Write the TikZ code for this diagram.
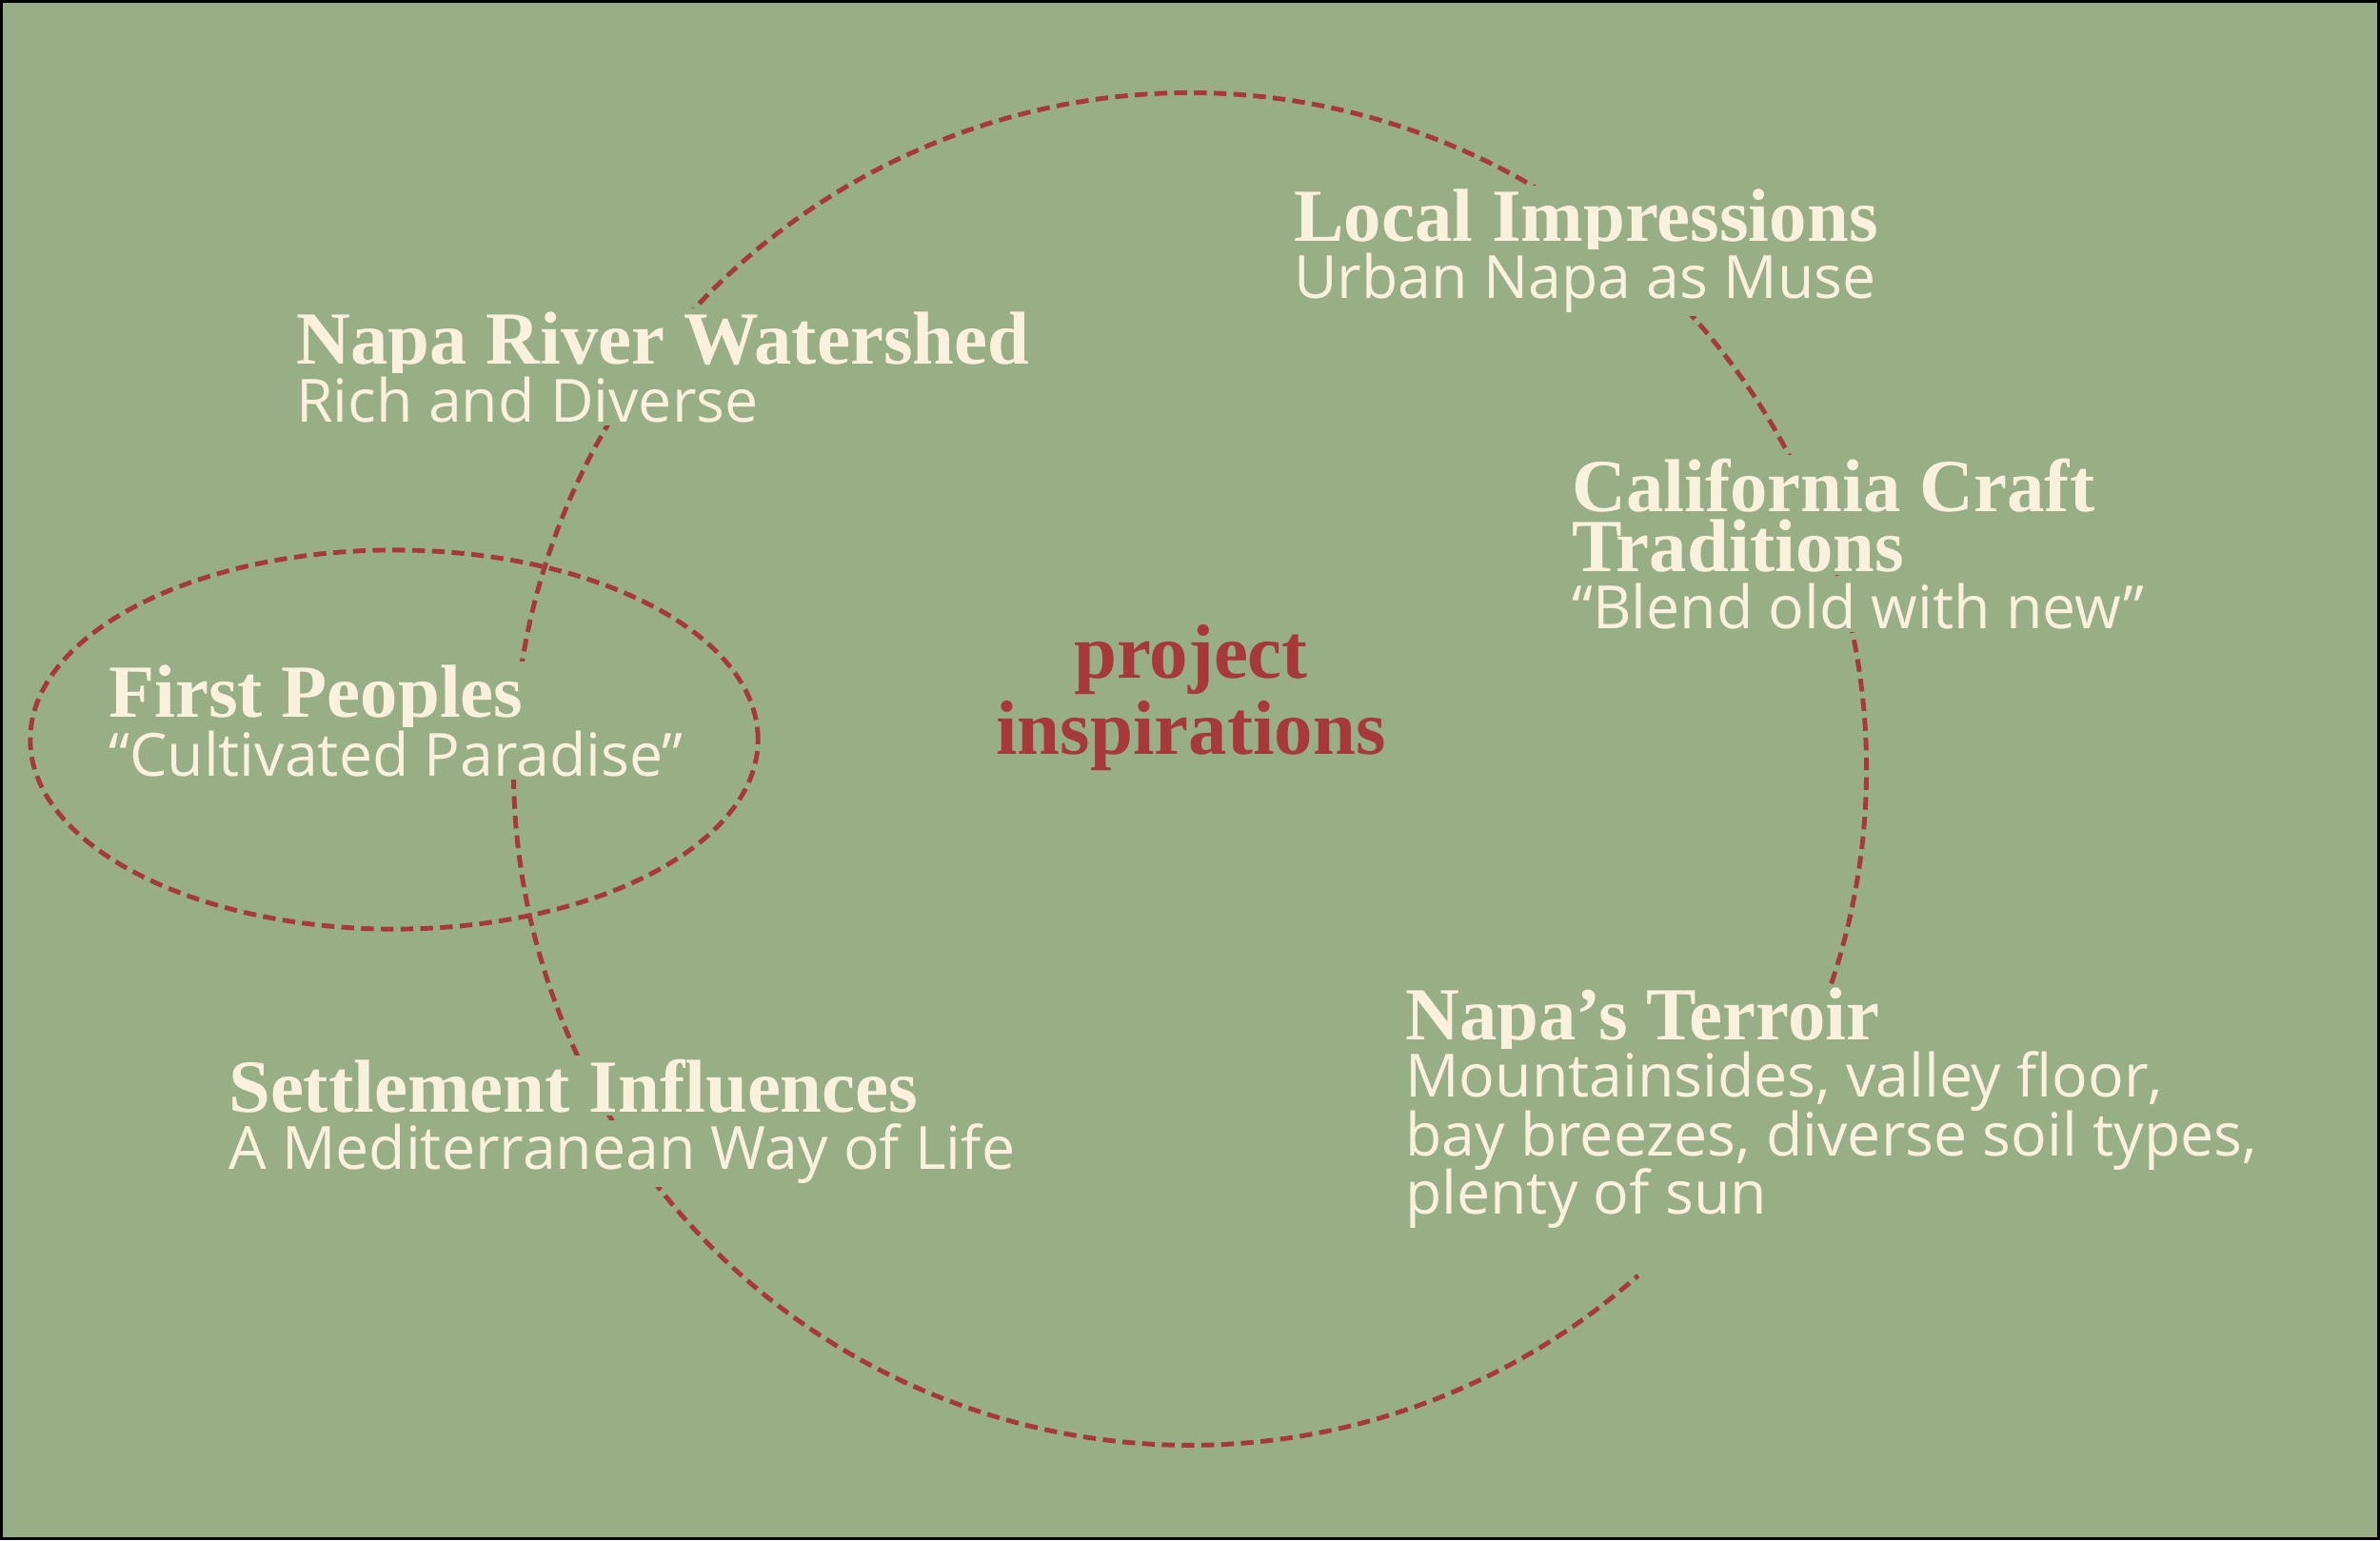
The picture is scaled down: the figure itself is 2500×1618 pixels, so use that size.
\documentclass[tikz,border=0pt]{standalone}
\usepackage{fontspec}
\setmainfont{Liberation Serif}
\newfontfamily\subfont{Open Sans}
\definecolor{sage}{HTML}{97AE87}
\definecolor{wine}{HTML}{A8393A}
\definecolor{cream}{HTML}{FAF1DC}
\lineskiplimit=-20pt
\tikzset{
  head/.style={anchor=base west,inner sep=1pt,fill=sage,text=cream,align=left,
    font=\fontsize{22.4pt}{17.8pt}\selectfont\bfseries},
  sub/.style={anchor=base west,inner sep=1pt,fill=sage,text=cream,align=left,
    font=\fontsize{17.8pt}{17.35pt}\selectfont\subfont},
  trail/.style={wine,line width=1.4pt,dash pattern=on 3.8pt off 2.1pt}
}
\begin{document}
\begin{tikzpicture}[x=0.01cm,y=-0.01cm]
    \fill[sage] (0,0) rectangle (2500,1618);
    \useasboundingbox (0,0) rectangle (2500,1618);
    \coordinate (hub) at (1250,808);
    \coordinate (fp) at (414,777);
    \draw[trail] (fp) ellipse [x radius=3.82cm,y radius=1.99cm];
    \draw[trail] (hub) ++(-18.5:7.1cm) arc[start angle=-18.5,end angle=311.5,radius=7.1cm];
    \node[head] (local) at (1355,253) {Local Impressions};
    \node[sub] (localsub) at (1355,313) {Urban Napa as Muse};
    \node[head] (river) at (307,382) {Napa River Watershed};
    \node[sub] (riversub) at (307,443) {Rich and Diverse};
    \node[head] (craft) at (1647,600) {California Craft\\Traditions};
    \node[sub] (craftsub) at (1647,660) {“Blend old with new”};
    \node[head] (first) at (110,753) {First Peoples};
    \node[sub] (firstsub) at (110,815) {“Cultivated Paradise”};
    \node[head] (terroir) at (1472,1092) {Napa’s Terroir};
    \node[sub] (terroirsub) at (1472,1275) {Mountainsides, valley floor,\\bay breezes, diverse soil types,\\plenty of sun};
    \node[head] (settle) at (236,1168) {Settlement Influences};
    \node[sub] (settlesub) at (236,1228) {A Mediterranean Way of Life};
    \node[anchor=base,align=center,text=wine,font=\fontsize{23pt}{22.5pt}\selectfont\bfseries] (insp) at (1251,792) {project\\inspirations};
    \draw[line width=0.03cm] (1.5,1.5) rectangle (2498.5,1616.5);
  \end{tikzpicture}
\end{document}
